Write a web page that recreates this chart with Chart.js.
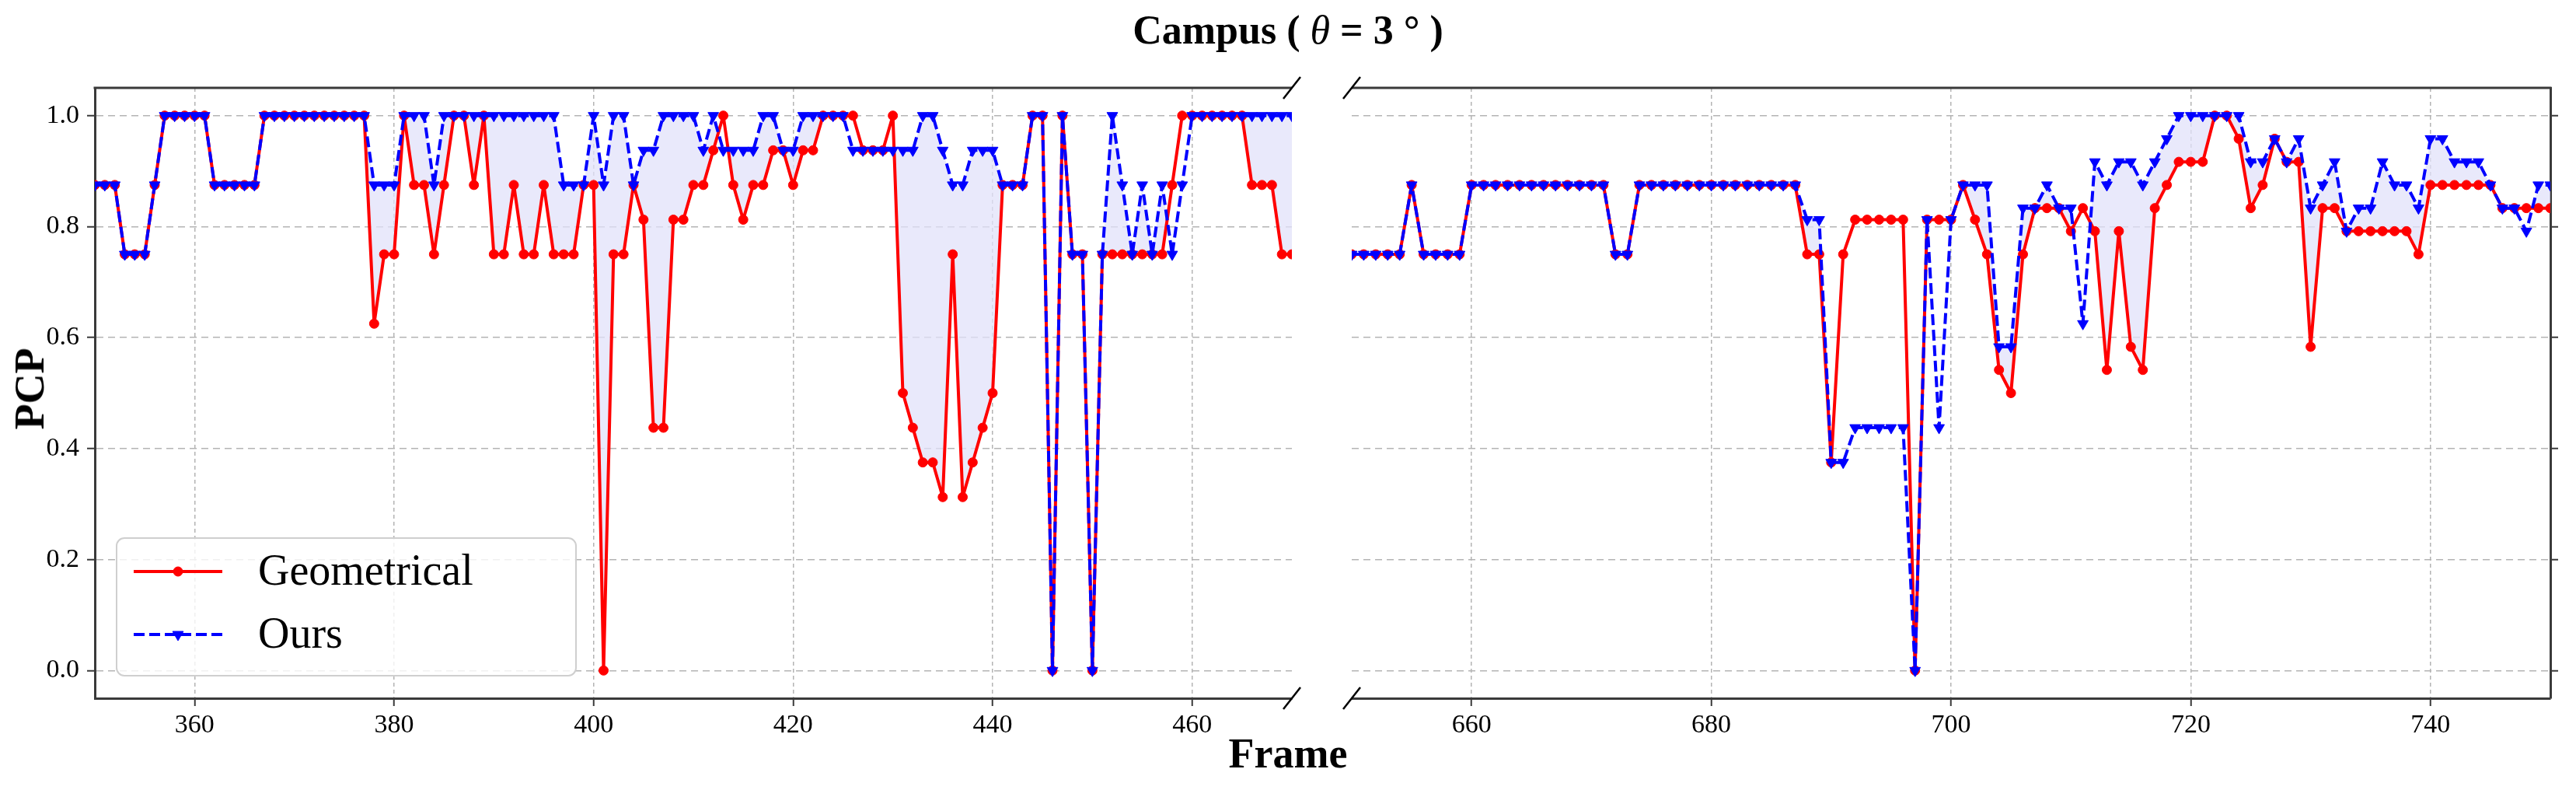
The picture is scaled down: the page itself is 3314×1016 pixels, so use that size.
<!DOCTYPE html>
<html>
<head>
<meta charset="utf-8">
<script src="https://cdn.jsdelivr.net/npm/chart.js@4/dist/chart.umd.min.js"></script>
<style>
  html, body { margin: 0; padding: 0; background: #fff; }
  #fig { position: relative; width: 3314px; height: 1016px; overflow: hidden;
         font-family: "Liberation Serif", "Times New Roman", serif; color: #000; }
  #fig canvas { position: absolute; top: 0; }
  #title { position: absolute; left: 0; top: 13px; width: 3314px; text-align: center;
           font-weight: bold; font-size: 52px; line-height: 52px; white-space: pre; }
  #title i { font-weight: normal; }
  #xlabel { position: absolute; left: 0; top: 938px; width: 3314px; text-align: center;
            font-weight: bold; font-size: 54px; }
  #ylabel { position: absolute; left: 38px; top: 500px; transform: translate(-50%, -50%) rotate(-90deg);
            font-weight: bold; font-size: 54px; line-height: 54px; }
</style>
</head>
<body>
<div id="fig">
  <canvas id="left" width="1700" height="1016" style="left:0;width:1700px;height:1016px"></canvas>
  <canvas id="right" width="1614" height="1016" style="left:1700px;width:1614px;height:1016px"></canvas>
  <div id="title">Campus ( <i>θ</i> = 3 ° )</div>
  <div id="xlabel">Frame</div>
  <div id="ylabel">PCP</div>
</div>
<script>
// frames 350..470 (left) and 650..750 (right), one value per frame
const leftStart = 350;
const rightStart = 650;

const leftGeo = [
  .875, .875, .875, .75, .75, .75, .875, 1, 1, 1,
  1, 1, .875, .875, .875, .875, .875, 1, 1, 1,
  1, 1, 1, 1, 1, 1, 1, 1, .625, .75,
  .75, 1, .875, .875, .75, .875, 1, 1, .875, 1,
  .75, .75, .875, .75, .75, .875, .75, .75, .75, .875,
  .875, 0, .75, .75, .875, .8125, .4375, .4375, .8125, .8125,
  .875, .875, .9375, 1, .875, .8125, .875, .875, .9375, .9375,
  .875, .9375, .9375, 1, 1, 1, 1, .9375, .9375, .9375,
  1, .5, .4375, .375, .375, .3125, .75, .3125, .375, .4375,
  .5, .875, .875, .875, 1, 1, 0, 1, .75, .75,
  0, .75, .75, .75, .75, .75, .75, .75, .875, 1,
  1, 1, 1, 1, 1, 1, .875, .875, .875, .75, .75
];
const leftOurs = [
  .875, .875, .875, .75, .75, .75, .875, 1, 1, 1,
  1, 1, .875, .875, .875, .875, .875, 1, 1, 1,
  1, 1, 1, 1, 1, 1, 1, 1, .875, .875,
  .875, 1, 1, 1, .875, 1, 1, 1, 1, 1,
  1, 1, 1, 1, 1, 1, 1, .875, .875, .875,
  1, .875, 1, 1, .875, .9375, .9375, 1, 1, 1,
  1, .9375, 1, .9375, .9375, .9375, .9375, 1, 1, .9375,
  .9375, 1, 1, 1, 1, 1, .9375, .9375, .9375, .9375,
  .9375, .9375, .9375, 1, 1, .9375, .875, .875, .9375, .9375,
  .9375, .875, .875, .875, 1, 1, 0, 1, .75, .75,
  0, .75, 1, .875, .75, .875, .75, .875, .75, .875,
  1, 1, 1, 1, 1, 1, 1, 1, 1, 1, 1
];
const rightGeo = [
  .75, .75, .75, .75, .75, .875, .75, .75, .75, .75,
  .875, .875, .875, .875, .875, .875, .875, .875, .875, .875,
  .875, .875, .75, .75, .875, .875, .875, .875, .875, .875,
  .875, .875, .875, .875, .875, .875, .875, .875, .75, .75,
  .375, .75, .8125, .8125, .8125, .8125, .8125, 0, .8125, .8125,
  .8125, .875, .8125, .75, .5417, .5, .75, .8333, .8333, .8333,
  .7917, .8333, .7917, .5417, .7917, .5833, .5417, .8333, .875, .9167,
  .9167, .9167, 1, 1, .9583, .8333, .875, .9583, .9167, .9167,
  .5833, .8333, .8333, .7917, .7917, .7917, .7917, .7917, .7917, .75,
  .875, .875, .875, .875, .875, .875, .8333, .8333, .8333, .8333, .8333
];
const rightOurs = [
  .75, .75, .75, .75, .75, .875, .75, .75, .75, .75,
  .875, .875, .875, .875, .875, .875, .875, .875, .875, .875,
  .875, .875, .75, .75, .875, .875, .875, .875, .875, .875,
  .875, .875, .875, .875, .875, .875, .875, .875, .8125, .8125,
  .375, .375, .4375, .4375, .4375, .4375, .4375, 0, .8125, .4375,
  .8125, .875, .875, .875, .5833, .5833, .8333, .8333, .875, .8333,
  .8333, .625, .9167, .875, .9167, .9167, .875, .9167, .9583, 1,
  1, 1, 1, 1, 1, .9167, .9167, .9583, .9167, .9583,
  .8333, .875, .9167, .7917, .8333, .8333, .9167, .875, .875, .8333,
  .9583, .9583, .9167, .9167, .9167, .875, .8333, .8333, .7917, .875, .875
];

const leftTicks = [360, 380, 400, 420, 440, 460];
const rightTicks = [660, 680, 700, 720, 740];
const yTicks = [0, 0.2, 0.4, 0.6, 0.8, 1.0];
const seriesNames = ["Geometrical", "Ours"];

const RED = "#ff0000";
const BLUE = "#0000ff";
const FILL = "rgba(225, 225, 250, 0.75)";
const SPINE = "#3a3a3a";
const GRID = "#b4b4b4";
const FONT = "'Liberation Serif', 'Times New Roman', serif";

const toXY = (start, vals) => vals.map((v, i) => ({ x: start + i, y: v }));

function datasets(start, geo, ours) {
  return [
    {
      label: seriesNames[0], data: toXY(start, geo), order: 1,
      borderColor: RED, backgroundColor: RED, borderWidth: 4,
      pointStyle: "circle", pointRadius: 6, pointBackgroundColor: RED,
      pointBorderColor: RED, pointBorderWidth: 1, fill: false, tension: 0
    },
    {
      label: seriesNames[1], data: toXY(start, ours), order: 0,
      borderColor: BLUE, backgroundColor: BLUE, borderWidth: 4, borderDash: [14, 6],
      pointStyle: "triangle", pointRotation: 180, pointRadius: 8,
      pointBackgroundColor: BLUE, pointBorderColor: BLUE, pointBorderWidth: 1,
      fill: { target: 0, above: FILL, below: "rgba(0,0,0,0)" }, tension: 0
    }
  ];
}

// top spine + "//" break marks on the cut side
const framePlugin = {
  id: "frame",
  afterDraw(chart, _args, opts) {
    const { ctx, chartArea: a } = chart;
    ctx.save();
    ctx.strokeStyle = SPINE;
    ctx.lineWidth = 3;
    ctx.beginPath();
    ctx.moveTo(a.left - (opts.cut === "right" ? 1.5 : 0), a.top);
    ctx.lineTo(a.right + (opts.cut === "left" ? 1.5 : 0), a.top);
    ctx.stroke();
    const x = opts.cut === "right" ? a.right : a.left;
    ctx.strokeStyle = "#000";
    ctx.lineWidth = 2.5;
    for (const y of [a.top, a.bottom]) {
      ctx.beginPath();
      ctx.moveTo(x - 11, y + 14);
      ctx.lineTo(x + 11, y - 14);
      ctx.stroke();
    }
    ctx.restore();
  }
};

const legendPlugin = {
  id: "boxLegend",
  afterDraw(chart) {
    const ctx = chart.ctx;
    const bx = 150, by = 692, bw = 591, bh = 177;
    ctx.save();
    ctx.beginPath();
    ctx.roundRect(bx, by, bw, bh, 10);
    ctx.fillStyle = "rgba(255,255,255,0.8)";
    ctx.fill();
    ctx.strokeStyle = "#cfcfcf";
    ctx.lineWidth = 2;
    ctx.stroke();

    const rows = [735, 816];
    chart.data.datasets.forEach((ds, i) => {
      const y = rows[i];
      ctx.strokeStyle = ds.borderColor;
      ctx.lineWidth = ds.borderWidth;
      ctx.setLineDash(ds.borderDash || []);
      ctx.beginPath();
      ctx.moveTo(172, y);
      ctx.lineTo(286, y);
      ctx.stroke();
      ctx.setLineDash([]);
      ctx.fillStyle = ds.pointBackgroundColor;
      ctx.strokeStyle = ds.pointBorderColor;
      ctx.lineWidth = 1;
      Chart.helpers.drawPoint(ctx, {
        pointStyle: ds.pointStyle, rotation: ds.pointRotation || 0,
        radius: ds.pointRadius, borderWidth: 1
      }, 229, y);
      ctx.fillStyle = "#000";
      ctx.font = "56px " + FONT;
      ctx.textBaseline = "middle";
      ctx.textAlign = "left";
      ctx.fillText(ds.label, 332, y + 2);
    });
    ctx.restore();
  }
};

function makeOptions(side, xmin, xmax, ticks, layoutPad, yWidth) {
  return {
    responsive: false,
    animation: false,
    devicePixelRatio: 1,
    layout: { padding: layoutPad },
    plugins: {
      legend: { display: false },
      tooltip: { enabled: false },
      filler: { drawTime: "beforeDatasetsDraw" },
      frame: { cut: side === "left" ? "right" : "left" }
    },
    elements: { line: { borderJoinStyle: "round", borderCapStyle: "butt" } },
    scales: {
      x: {
        type: "linear", min: xmin, max: xmax,
        afterBuildTicks: s => { s.ticks = ticks.map(v => ({ value: v })); },
        afterFit: s => { s.height = 118; },
        ticks: { color: "#000", font: { family: FONT, size: 34 }, padding: 5, maxRotation: 0 },
        grid: { color: GRID, lineWidth: 1.5, drawTicks: true, tickLength: 10,
                tickColor: SPINE, tickWidth: 2 },
        border: { display: true, color: SPINE, width: 3, dash: [5, 4] }
      },
      y: {
        type: "linear", min: -0.05, max: 1.05, position: side,
        afterBuildTicks: s => { s.ticks = yTicks.map(v => ({ value: v })); },
        afterFit: s => { s.width = yWidth; },
        ticks: { display: side === "left", color: "#000", font: { family: FONT, size: 34 },
                 padding: 10, callback: v => v.toFixed(1) },
        grid: { color: GRID, lineWidth: 1.5, drawTicks: true, tickLength: 10,
                tickColor: SPINE, tickWidth: 2 },
        border: { display: true, color: SPINE, width: 3, dash: [9, 6] }
      }
    }
  };
}

new Chart(document.getElementById("left"), {
  type: "line",
  data: { datasets: datasets(leftStart, leftGeo, leftOurs) },
  options: makeOptions("left", 350, 470, leftTicks, { top: 113, right: 38, left: 0, bottom: 0 }, 122),
  plugins: [framePlugin, legendPlugin]
});

new Chart(document.getElementById("right"), {
  type: "line",
  data: { datasets: datasets(rightStart, rightGeo, rightOurs) },
  options: makeOptions("right", 650, 750, rightTicks, { top: 113, right: 0, left: 39, bottom: 0 }, 33),
  plugins: [framePlugin]
});
</script>
</body>
</html>
